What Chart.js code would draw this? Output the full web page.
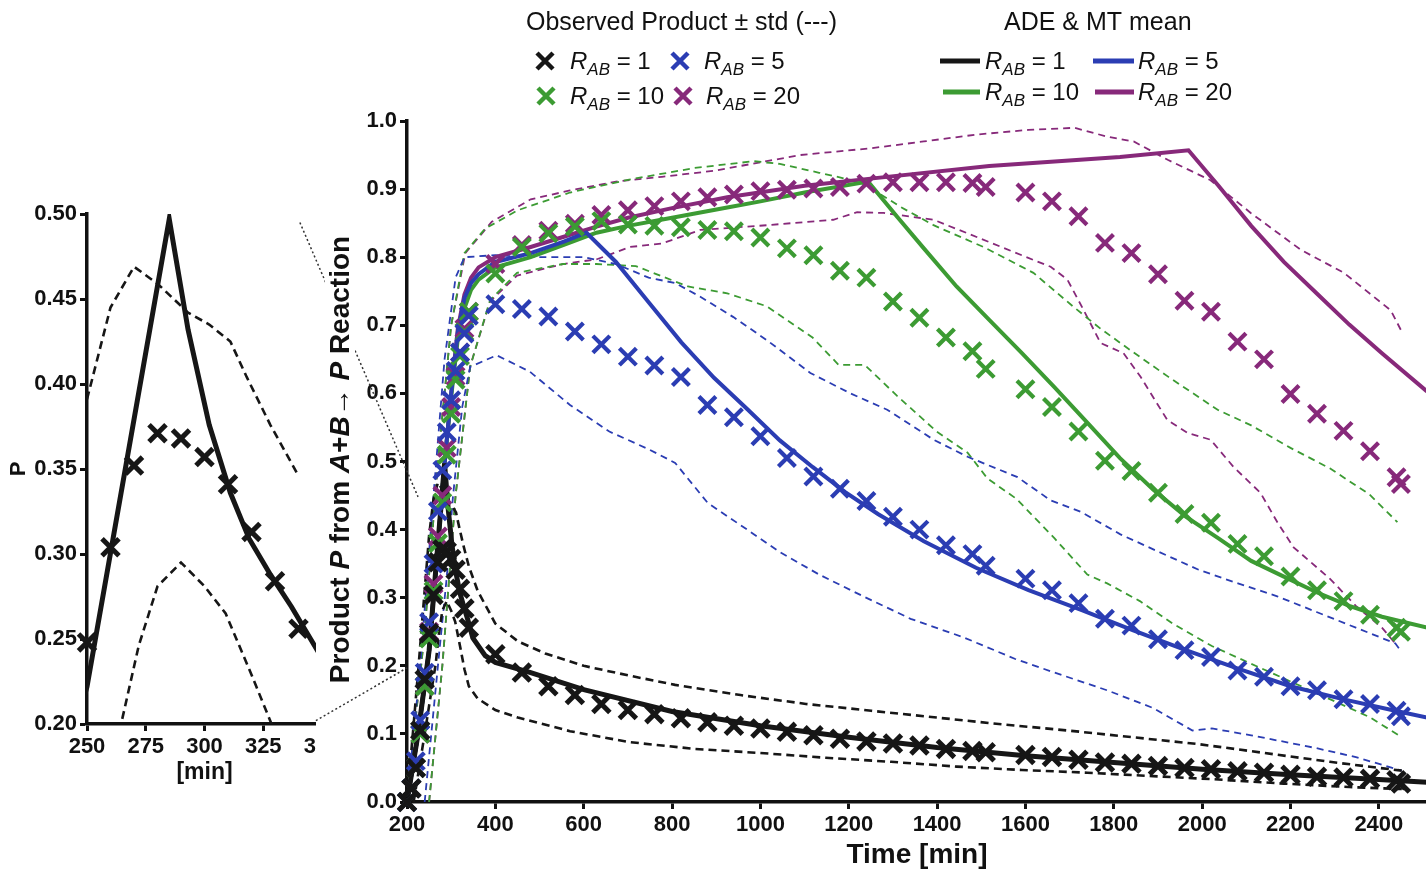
<!DOCTYPE html>
<html>
<head>
<meta charset="utf-8">
<script src="https://cdn.jsdelivr.net/npm/chart.js@4.4.0/dist/chart.umd.min.js"></script>
<style>
  html, body { margin: 0; padding: 0; background: #fff; overflow: hidden; }
  #wrap { position: relative; width: 1426px; height: 875px; overflow: hidden; }
  #main { position: absolute; left: 0; top: 0; }
  #insetBox { position: absolute; left: 0; top: 0; width: 316px; height: 800px; overflow: hidden; }
</style>
</head>
<body>
<div id="wrap">
  <canvas id="main" width="1444" height="875"></canvas>
  <div id="insetBox"><canvas id="inset" width="360" height="790"></canvas></div>
</div>
<script>
// observation times [min] shared by all four R_AB runs
const obsTimes = [200,210,220,230,240,250,260,270,280,290,300,310,320,330,340,
  400,460,520,580,640,700,760,820,880,940,1000,1060,1120,1180,1240,1300,1360,1420,1480,
  1510,
  1600,1660,1720,1780,1840,1900,1960,2020,2080,2140,2200,2260,2320,2380,2440,
  2450];

// observed product means (crosses)
const obsR1 = [0.0,0.02,0.05,0.105,0.18,0.248,0.304,0.352,0.371,0.368,0.357,0.341,0.313,0.284,0.256,
  0.217,0.19,0.17,0.157,0.144,0.135,0.129,0.123,0.117,0.112,0.108,0.103,0.098,0.093,0.089,0.086,0.083,0.078,0.075,
  0.073,
  0.069,0.066,0.062,0.058,0.056,0.053,0.05,0.048,0.045,0.043,0.04,0.037,0.036,0.034,0.032,
  0.027];
const obsR5 = [0.0,0.02,0.06,0.12,0.19,0.264,0.35,0.427,0.487,0.543,0.59,0.633,0.66,0.688,0.714,
  0.731,0.724,0.713,0.691,0.672,0.654,0.641,0.624,0.583,0.565,0.537,0.505,0.478,0.46,0.442,0.419,0.4,0.377,0.364,
  0.347,
  0.328,0.311,0.292,0.269,0.259,0.239,0.223,0.213,0.193,0.184,0.17,0.164,0.151,0.144,0.134,
  0.126];
const obsR10 = [0.0,0.02,0.05,0.1,0.17,0.24,0.31,0.38,0.44,0.51,0.57,0.62,0.655,0.69,0.72,
  0.776,0.815,0.835,0.845,0.853,0.848,0.846,0.844,0.84,0.838,0.829,0.813,0.803,0.78,0.77,0.735,0.711,0.682,0.662,
  0.636,
  0.606,0.58,0.544,0.501,0.486,0.454,0.423,0.41,0.379,0.361,0.331,0.311,0.295,0.275,0.256,
  0.25];
const obsR20 = [0.0,0.02,0.05,0.1,0.17,0.25,0.32,0.39,0.45,0.52,0.58,0.625,0.66,0.695,0.72,
  0.79,0.818,0.839,0.849,0.862,0.869,0.875,0.882,0.888,0.892,0.897,0.899,0.901,0.903,0.908,0.91,0.91,0.91,0.909,
  0.903,
  0.895,0.882,0.86,0.821,0.806,0.775,0.736,0.72,0.676,0.65,0.599,0.57,0.545,0.515,0.477,
  0.467];

// ADE & MT mean (solid lines), [time, P]
const modelR1 = [[200,0],[225,0.1],[250,0.222],[285,0.497],[293,0.432],[302,0.376],[311,0.336],[319,0.309],
  [328,0.288],[337,0.269],[349,0.241],[377,0.215],[400,0.205],[480,0.19],[600,0.165],[800,0.133],[1000,0.112],
  [1200,0.095],[1400,0.08],[1600,0.068],[1800,0.058],[2000,0.048],[2200,0.04],[2400,0.033],[2509,0.029]];
const modelR5 = [[200,0],[225,0.1],[250,0.222],[285,0.497],[300,0.6],[315,0.69],[330,0.74],[345,0.762],
  [362,0.775],[400,0.793],[480,0.806],[555,0.823],[606,0.836],[673,0.793],[747,0.734],[821,0.675],[895,0.623],
  [970,0.577],[1044,0.531],[1118,0.492],[1192,0.455],[1266,0.423],[1370,0.383],[1488,0.344],[1607,0.311],
  [1726,0.282],[1844,0.252],[1963,0.223],[2081,0.196],[2200,0.17],[2318,0.151],[2437,0.134],[2509,0.124]];
const modelR10 = [[200,0],[225,0.1],[250,0.222],[285,0.497],[300,0.595],[315,0.68],[330,0.725],[345,0.752],
  [362,0.767],[400,0.785],[480,0.8],[555,0.818],[629,0.836],[700,0.846],[800,0.858],[925,0.873],[1000,0.882],
  [1100,0.895],[1244,0.911],[1310,0.859],[1370,0.813],[1444,0.757],[1518,0.708],[1592,0.659],[1666,0.609],
  [1740,0.557],[1814,0.505],[1889,0.459],[1963,0.419],[2037,0.387],[2111,0.354],[2185,0.331],[2259,0.308],
  [2333,0.288],[2407,0.272],[2509,0.256]];
const modelR20 = [[200,0],[225,0.1],[250,0.222],[285,0.497],[300,0.6],[315,0.695],[330,0.745],[345,0.77],
  [362,0.785],[400,0.8],[480,0.815],[555,0.83],[629,0.845],[700,0.858],[800,0.872],[925,0.888],[1100,0.905],
  [1244,0.915],[1518,0.934],[1814,0.947],[1969,0.957],[2037,0.905],[2111,0.846],[2185,0.793],[2259,0.747],
  [2333,0.701],[2407,0.659],[2509,0.603]];

// observed +/- std (dashed)
const stdUpR1 = [[200,0],[225,0.19],[250,0.391],[260,0.445],[270,0.469],[280,0.459],[293,0.442],[302,0.435],
  [311,0.425],[318,0.404],[328,0.376],[340,0.346],[360,0.31],[400,0.262],[451,0.236],[513,0.218],[600,0.2],
  [700,0.186],[807,0.172],[955,0.157],[1103,0.144],[1251,0.134],[1399,0.124],[1548,0.114],[1696,0.105],
  [1844,0.095],[1992,0.085],[2141,0.072],[2289,0.059],[2452,0.046]];
const stdLoR1 = [[215,0],[240,0.1],[265,0.203],[272,0.246],[280,0.281],[290,0.295],[300,0.281],[309,0.265],
  [320,0.229],[330,0.195],[340,0.17],[360,0.152],[400,0.135],[451,0.124],[569,0.104],[703,0.088],[851,0.078],
  [999,0.072],[1148,0.065],[1296,0.059],[1444,0.052],[1592,0.047],[1740,0.043],[1889,0.038],[2037,0.033],
  [2185,0.027],[2333,0.022],[2452,0.019]];
const stdUpR5 = [[200,0],[230,0.2],[260,0.45],[285,0.65],[310,0.77],[330,0.8],[400,0.803],[480,0.8],[600,0.8],
  [673,0.79],[747,0.77],[807,0.762],[864,0.742],[939,0.712],[1015,0.678],[1113,0.63],[1204,0.6],[1287,0.576],
  [1392,0.532],[1469,0.507],[1582,0.477],[1657,0.443],[1726,0.426],[1815,0.393],[1903,0.367],[1992,0.341],
  [2081,0.321],[2170,0.302],[2259,0.279],[2348,0.256],[2437,0.233],[2452,0.22]];
const stdLoR5 = [[240,0],[270,0.2],[290,0.33],[304,0.448],[325,0.58],[343,0.639],[403,0.656],[478,0.632],
  [569,0.583],[658,0.544],[747,0.518],[807,0.498],[881,0.439],[970,0.4],[1044,0.367],[1133,0.334],[1236,0.301],
  [1340,0.269],[1459,0.242],[1577,0.21],[1666,0.19],[1785,0.164],[1889,0.138],[1978,0.105],[2022,0.108],
  [2111,0.098],[2259,0.079],[2348,0.066],[2452,0.046]];
const stdUpR10 = [[200,0],[240,0.25],[270,0.5],[300,0.7],[330,0.806],[377,0.842],[451,0.869],[569,0.895],
  [703,0.914],[851,0.931],[985,0.941],[1044,0.937],[1133,0.924],[1222,0.911],[1251,0.901],[1317,0.874],
  [1392,0.847],[1505,0.815],[1618,0.777],[1709,0.727],[1770,0.695],[1845,0.66],[1922,0.625],[2035,0.576],
  [2111,0.553],[2200,0.52],[2289,0.49],[2378,0.452],[2442,0.411]];
const stdLoR10 = [[250,0],[280,0.2],[310,0.45],[343,0.639],[388,0.737],[449,0.777],[553,0.79],[629,0.79],
  [718,0.787],[836,0.757],[925,0.747],[1014,0.728],[1118,0.682],[1177,0.642],[1236,0.642],[1310,0.596],
  [1399,0.544],[1469,0.513],[1514,0.475],[1580,0.445],[1666,0.387],[1740,0.334],[1785,0.321],[1859,0.295],
  [1933,0.262],[2022,0.229],[2111,0.203],[2200,0.177],[2289,0.151],[2378,0.125],[2445,0.098]];
const stdUpR20 = [[200,0],[240,0.25],[270,0.5],[300,0.7],[332,0.806],[392,0.852],[480,0.885],[569,0.898],
  [673,0.911],[777,0.918],[896,0.927],[1014,0.941],[1090,0.95],[1251,0.96],[1370,0.97],[1488,0.98],[1607,0.987],
  [1711,0.99],[1785,0.977],[1845,0.97],[1922,0.943],[2019,0.913],[2110,0.865],[2223,0.811],[2321,0.777],
  [2427,0.722],[2450,0.693]];
const stdLoR20 = [[250,0],[280,0.2],[310,0.45],[343,0.64],[388,0.735],[449,0.773],[553,0.79],[630,0.797],
  [705,0.815],[777,0.82],[864,0.84],[1015,0.847],[1165,0.855],[1219,0.866],[1279,0.865],[1392,0.855],
  [1469,0.835],[1618,0.796],[1657,0.786],[1695,0.767],[1732,0.722],[1770,0.674],[1822,0.659],[1861,0.624],
  [1921,0.561],[1967,0.542],[2019,0.532],[2071,0.492],[2132,0.454],[2171,0.41],[2207,0.374],[2289,0.328],
  [2348,0.288],[2407,0.256],[2437,0.233]];

const ratios = ['1', '5', '10', '20'];
const xTicks = [200,400,600,800,1000,1200,1400,1600,1800,2000,2200,2400];
const yTicks = [0,0.1,0.2,0.3,0.4,0.5,0.6,0.7,0.8,0.9,1.0];
const insetXTicks = [250,275,300,325,350];
const insetYTicks = [0.20,0.25,0.30,0.35,0.40,0.45,0.50];

const colors = ['#161616', '#2b3db3', '#3c9b33', '#87297a'];
const FONT = '"Liberation Sans", Arial, sans-serif';

const pairs = arr => arr.map(p => ({x: p[0], y: p[1]}));
const zip = (xs, ys) => xs.map((x, i) => ({x: x, y: ys[i]}));

function crossSet(data, color, w, order) {
  return { data: data, pointStyle: 'crossRot', pointRadius: 12, pointHoverRadius: 12,
    pointBorderWidth: w, pointBorderColor: color, pointBackgroundColor: color,
    borderColor: color, showLine: false, clip: false, order: order };
}
function lineSet(data, color, w, dash, order) {
  return { data: data, showLine: true, pointRadius: 0, pointHoverRadius: 0, borderColor: color,
    borderWidth: w, borderDash: dash, tension: 0, fill: false, order: order };
}

const obs = [obsR1, obsR5, obsR10, obsR20];
const models = [modelR1, modelR5, modelR10, modelR20];
const ups = [stdUpR1, stdUpR5, stdUpR10, stdUpR20];
const lows = [stdLoR1, stdLoR5, stdLoR10, stdLoR20];

const mainSets = [];
for (let i = 0; i < 4; i++) {
  const dw = i === 0 ? 2.6 : 1.8;
  const dash = i === 0 ? [8, 5] : [7, 5];
  mainSets.push(lineSet(pairs(ups[i]), colors[i], dw, dash, 40 + i));
  mainSets.push(lineSet(pairs(lows[i]), colors[i], dw, dash, 40 + i));
  mainSets.push(lineSet(pairs(models[i]), colors[i], i === 0 ? 5 : 4, [], 20 + i));
  mainSets.push(crossSet(zip(obsTimes, obs[i]), colors[i], i === 0 ? 5 : 4.2, 10 + i));
}

// inset only keeps the samples of the zoom window
const inWin = p => p.x >= 250 && p.x <= 340;
const insetSets = [
  lineSet(pairs(stdUpR1).filter(inWin), colors[0], 2.6, [8, 5], 3),
  lineSet(pairs(stdLoR1).filter(inWin), colors[0], 2.6, [8, 5], 3),
  lineSet(pairs(modelR1), colors[0], 5, [], 2),
  crossSet(zip(obsTimes, obsR1).filter(inWin), colors[0], 5, 1)
];

function axisStyle(ticks, fmt, size) {
  return {
    type: 'linear',
    afterBuildTicks: s => { s.ticks = ticks.map(v => ({value: v})); },
    ticks: { font: {family: FONT, size: size, weight: 'bold'}, color: '#111', padding: 3, callback: fmt },
    grid: { display: true, drawOnChartArea: false, drawTicks: true, tickLength: 7, tickWidth: 3,
      tickColor: '#111', color: '#111' },
    border: { display: true, width: 3.5, color: '#111' }
  };
}

// inset chart (zoom of the R_AB = 1 peak)
const ix = axisStyle(insetXTicks, v => String(v), 22);
ix.min = 250; ix.max = 350;
ix.afterFit = s => { s.height = 66; };
ix.title = { display: true, text: '[min]', color: '#111', font: {family: FONT, size: 23, weight: 'bold'}, padding: {top: 0, bottom: 4} };
const iy = axisStyle(insetYTicks, v => v.toFixed(2), 22);
iy.min = 0.2; iy.max = 0.5;
iy.afterFit = s => { s.width = 87; };
iy.title = { display: true, text: 'P', color: '#111', font: {family: FONT, size: 22, weight: 'bold'}, padding: {top: 6, bottom: 0} };

const insetChart = new Chart(document.getElementById('inset'), {
  type: 'scatter',
  data: { datasets: insetSets },
  options: {
    responsive: false, animation: false,
    layout: { padding: { top: 214, right: 38, left: 0, bottom: 0 } },
    plugins: { legend: {display: false}, tooltip: {enabled: false} },
    scales: { x: ix, y: iy }
  }
});

// connectors between inset and the zoomed region, in data units of each chart
const connInset = [[340.6, 0.495], [347.4, 0.202]];
const connMain = [[225, 0.448], [200, 0.197]];

function drawRab(ctx, x, cy, val) {
  const base = cy + 8;
  ctx.textBaseline = 'alphabetic';
  ctx.textAlign = 'left';
  ctx.font = 'italic 24px ' + FONT;
  ctx.fillText('R', x, base);
  let w = ctx.measureText('R').width;
  ctx.font = 'italic 17px ' + FONT;
  ctx.fillText('AB', x + w, base + 6);
  w += ctx.measureText('AB').width;
  ctx.font = '24px ' + FONT;
  ctx.fillText(' = ' + val, x + w, base);
}

const decor = {
  id: 'decor',
  afterDraw(chart) {
    const ctx = chart.ctx;
    const xs = chart.scales.x, ys = chart.scales.y;
    ctx.save();
    // dotted connectors
    ctx.strokeStyle = '#333';
    ctx.lineWidth = 1.5;
    ctx.setLineDash([2, 2.5]);
    for (let i = 0; i < 2; i++) {
      ctx.beginPath();
      ctx.moveTo(insetChart.scales.x.getPixelForValue(connInset[i][0]), insetChart.scales.y.getPixelForValue(connInset[i][1]));
      ctx.lineTo(xs.getPixelForValue(connMain[i][0]), ys.getPixelForValue(connMain[i][1]));
      ctx.stroke();
    }
    ctx.setLineDash([]);

    // y axis title with italic symbols
    const segs = [['Product ', ''], ['P', 'italic '], [' from ', ''], ['A', 'italic '], ['+', ''],
      ['B', 'italic '], ['\u2192 ', ''], ['P', 'italic '], [' Reaction', '']];
    ctx.translate(340, (ys.top + ys.bottom) / 2 - 2);
    ctx.rotate(-Math.PI / 2);
    let total = 0;
    segs.forEach(s => { ctx.font = s[1] + 'bold 28px ' + FONT; total += ctx.measureText(s[0]).width; });
    ctx.fillStyle = '#fff';
    ctx.fillRect(-total / 2 - 4, -15, total + 8, 30);
    ctx.fillStyle = '#111';
    ctx.textBaseline = 'middle';
    let px = -total / 2;
    segs.forEach(s => {
      ctx.font = s[1] + 'bold 28px ' + FONT;
      ctx.fillText(s[0], px, 1);
      px += ctx.measureText(s[0]).width;
    });
    ctx.restore();

    // legends
    ctx.save();
    ctx.fillStyle = '#111';
    ctx.textBaseline = 'middle';
    ctx.font = '25px ' + FONT;
    ctx.fillText('Observed Product \u00b1 std (---)', 526, 23);
    ctx.fillText('ADE & MT mean', 1004, 23);
    const crossPos = [[545, 61, 570], [680, 61, 704], [546, 96, 570], [683, 96, 706]];
    const linePos = [[940, 980, 61, 985], [1093, 1134, 61, 1138], [943, 980, 92, 985], [1095, 1134, 92, 1138]];
    for (let i = 0; i < 4; i++) {
      const c = crossPos[i];
      ctx.strokeStyle = colors[i];
      ctx.lineWidth = 4.5;
      ctx.beginPath();
      ctx.moveTo(c[0] - 8, c[1] - 8); ctx.lineTo(c[0] + 8, c[1] + 8);
      ctx.moveTo(c[0] + 8, c[1] - 8); ctx.lineTo(c[0] - 8, c[1] + 8);
      ctx.stroke();
      ctx.fillStyle = '#111';
      drawRab(ctx, c[2], c[1], ratios[i]);
      const l = linePos[i];
      ctx.lineWidth = 5;
      ctx.beginPath();
      ctx.moveTo(l[0], l[2]); ctx.lineTo(l[1], l[2]);
      ctx.stroke();
      drawRab(ctx, l[3], l[2], ratios[i]);
    }
    ctx.restore();
  }
};

const mx = axisStyle(xTicks, v => String(v), 22);
mx.min = 200; mx.max = 2509;
mx.afterFit = s => { s.height = 73; };
mx.title = { display: true, text: 'Time [min]', color: '#111', font: {family: FONT, size: 28, weight: 'bold'}, padding: {top: 0, bottom: 3} };
const my = axisStyle(yTicks, v => v.toFixed(1), 22);
my.min = 0; my.max = 1;
my.afterFit = s => { s.width = 407; };

new Chart(document.getElementById('main'), {
  type: 'scatter',
  data: { datasets: mainSets },
  options: {
    responsive: false, animation: false,
    layout: { padding: { top: 121, right: 0, left: 0, bottom: 0 } },
    plugins: { legend: {display: false}, tooltip: {enabled: false} },
    scales: { x: mx, y: my }
  },
  plugins: [decor]
});
</script>
</body>
</html>
